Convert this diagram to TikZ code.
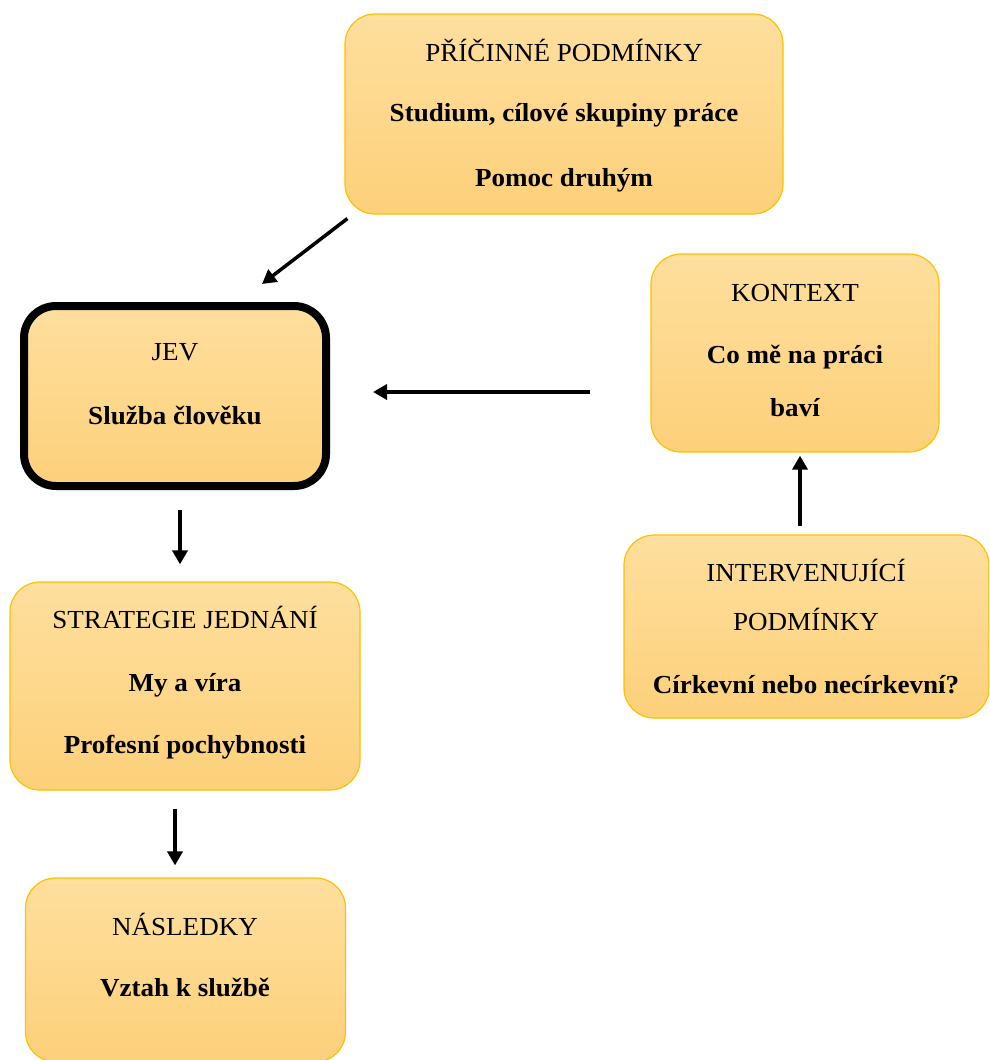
\documentclass[tikz,border=0pt]{standalone}
\usepackage{fontspec}
\setmainfont{Liberation Serif}[FakeStretch=1.04]
\usetikzlibrary{arrows.meta,calc}
\definecolor{boxtop}{RGB}{254,223,158}
\definecolor{boxbot}{RGB}{253,208,122}
\definecolor{boxline}{RGB}{255,192,0}
\tikzset{
  box/.style={draw=boxline, line width=1.2pt, rounded corners=30pt,
    top color=boxtop, bottom color=boxbot, inner sep=0pt},
  jevbox/.style={draw=black, line width=8pt, rounded corners=32pt,
    top color=boxtop, bottom color=boxbot, inner sep=0pt},
  ttl/.style={font=\fontsize{26}{30}\selectfont, inner sep=0pt},
  bld/.style={font=\fontsize{26}{30}\selectfont\bfseries, inner sep=0pt},
  arr/.style={line width=3.5pt, -{Triangle[length=14pt,width=15pt]}}
}
\begin{document}
\begin{tikzpicture}[x=1pt,y=-1pt]
\useasboundingbox (0,0) rectangle (989,1060);
\begin{scope}
\clip (0,0) rectangle (989,1060);
% boxes
\node[box, minimum width=438pt, minimum height=200pt] (pric) at (564,114) {};
\node[jevbox, minimum width=302pt, minimum height=180pt] (jev) at (175,396) {};
\node[box, minimum width=288pt, minimum height=198pt] (kont) at (795,353) {};
\node[box, minimum width=365pt, minimum height=183pt] (inter) at (806.5,626.5) {};
\node[box, minimum width=350pt, minimum height=208pt] (strat) at (185,686) {};
\node[box, minimum width=320pt, minimum height=184pt] (nasl) at (185.5,970) {};
\end{scope}
% texts
\node[ttl] (t1) at (564,50) {PŘÍČINNÉ PODMÍNKY};
\node[bld] (t2) at (564,115) {Studium, cílové skupiny práce};
\node[bld] (t3) at (564,180) {Pomoc druhým};
\node[ttl] (j1) at (175,352) {JEV};
\node[bld] (j2) at (175,415) {Služba člověku};
\node[ttl] (k1) at (795,293) {KONTEXT};
\node[bld] (k2) at (795,357) {Co mě na práci};
\node[bld] (k3) at (795,408) {baví};
\node[ttl] (i1) at (806,571) {INTERVENUJÍCÍ};
\node[ttl] (i2) at (806,619) {PODMÍNKY};
\node[bld] (i3) at (806,685) {Církevní nebo necírkevní?};
\node[ttl] (s1) at (185,617) {STRATEGIE JEDNÁNÍ};
\node[bld] (s2) at (185,685) {My a víra};
\node[bld] (s3) at (185,747) {Profesní pochybnosti};
\node[ttl] (n1) at (185,924) {NÁSLEDKY};
\node[bld] (n2) at (185,988) {Vztah k službě};
% arrows
\draw[arr] ([shift={(3pt,-4pt)}]pric.south west) -- ([shift={(87pt,18pt)}]jev.north);
\draw[arr] ([xshift=-60pt]kont.west |- 0,392) -- ([xshift=43pt]jev.east |- 0,392);
\draw[arr] ([yshift=-20pt]jev.south -| 180,0) -- ([yshift=17pt]strat.north -| 180,0);
\draw[arr] ([yshift=8pt]inter.north -| 800,0) -- ([yshift=-3pt]kont.south -| 800,0);
\draw[arr] ([yshift=-18pt]strat.south -| 175,0) -- ([yshift=12pt]nasl.north -| 175,0);
\end{tikzpicture}
\end{document}
